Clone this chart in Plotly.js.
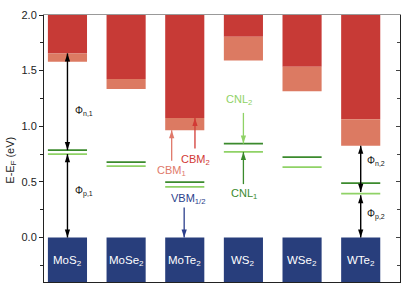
<!DOCTYPE html>
<html>
<head>
<meta charset="utf-8">
<script src="https://cdn.plot.ly/plotly-3.0.1.min.js"></script>
<style>html,body{margin:0;padding:0;background:#fff;}#chart{width:415px;height:304px;}</style>
</head>
<body>
<div id="chart"></div>
<script>
// ---- data ----
const materials = ['MoS<sub>2</sub>','MoSe<sub>2</sub>','MoTe<sub>2</sub>','WS<sub>2</sub>','WSe<sub>2</sub>','WTe<sub>2</sub>'];
const cbm1 = [1.58, 1.335, 0.965, 1.59, 1.315, 0.825];   // lower conduction edge (salmon)
const cbm2 = [1.655, 1.425, 1.075, 1.805, 1.535, 1.063]; // upper conduction edge (red)
const cnlUpper = [0.785, 0.678, 0.498, 0.844, 0.723, 0.489]; // dark green lines
const cnlLower = [0.750, 0.642, 0.455, 0.769, 0.633, 0.394]; // light green lines
const vbm = [0, 0, 0, 0, 0, 0];
const yTop = 2.0, yBottom = -0.4;

// phi double arrows
const phiCols = [0, 5];
const phiTop = [1.655, 0.825];
const phiMidUp = [0.785, 0.41];
const phiMidLo = [0.75, 0.38];
const phiLabels = ['Φ<sub>n,1</sub>', 'Φ<sub>p,1</sub>', 'Φ<sub>n,2</sub>', 'Φ<sub>p,2</sub>'];
const phiLabelX = [0.09, 0.09, 5.07, 5.07];
const phiLabelY = [1.14, 0.41, 0.69, 0.21];

// labelled arrows in MoTe2 / WS2 columns
const arrowNames = ['CBM<sub>1</sub>', 'CBM<sub>2</sub>', 'VBM<sub>1/2</sub>', 'CNL<sub>2</sub>', 'CNL<sub>1</sub>'];
const arrowX = [1.777, 2.174, 1.99, 3.0, 3.0];
const arrowFromY = [0.69, 0.80, 0.27, 1.12, 0.48];
const arrowToY = [0.965, 1.075, 0.0, 0.844, 0.769];
const labelX = [1.78, 2.19, 2.07, 2.92, 3.01];
const labelY = [0.60, 0.70, 0.35, 1.234, 0.387];

// ---- styles ----
const FONT = 'Liberation Sans, Arial, sans-serif';
const cDark = '#c73a36', cSalmon = '#dc7a62', cNavy = '#283e7c';
const gDark = '#3b8a2d', gLight = '#8fd266';
const arrowCols = ['#e0796a', '#d23a35', '#2c3f8c', '#8fd266', '#3b8a2d'];
const barW = 0.667;

const idx = materials.map((_, i) => i);
const traces = [];
traces.push({type:'bar', x: idx, base: cbm2, y: cbm2.map(v => yTop + 0.1 - v), width: barW,
  marker:{color:cDark, line:{width:0}}, hoverinfo:'skip'});
traces.push({type:'bar', x: idx, base: cbm1, y: cbm1.map((v,i) => cbm2[i] - v), width: barW,
  marker:{color:cSalmon, line:{width:0}}, hoverinfo:'skip'});
traces.push({type:'bar', x: idx, base: yBottom - 0.1, y: vbm.map(v => v - yBottom + 0.1), width: barW,
  marker:{color:cNavy, line:{width:0}}, hoverinfo:'skip'});

function levelLines(vals, color){
  const xs = [], ys = [];
  vals.forEach((v,i) => { xs.push(i - barW/2, i + barW/2, null); ys.push(v, v, null); });
  return {type:'scatter', mode:'lines', x: xs, y: ys, line:{color:color, width:1.8}, hoverinfo:'skip'};
}
traces.push(levelLines(cnlUpper, gDark));
traces.push(levelLines(cnlLower, gLight));

// arrow drawn as a line plus triangle heads (tip of 'arrow' symbol sits on the point)
function arrow(x, y0, y1, color, width, both){
  const dirEnd = y1 > y0 ? 0 : 180;
  traces.push({type:'scatter', mode:'lines', x:[x, x], y:[y0, y1], line:{color:color, width:width}, hoverinfo:'skip'});
  const mx = [x], my = [y1], ang = [dirEnd];
  if (both) { mx.push(x); my.push(y0); ang.push((dirEnd + 180) % 360); }
  traces.push({type:'scatter', mode:'markers', x:mx, y:my,
    marker:{symbol:'arrow', size:8.5, angle:ang, color:color, line:{width:0}}, hoverinfo:'skip'});
}
phiCols.forEach((c,k) => {
  arrow(c, phiMidUp[k], phiTop[k], '#000', 1.4, true);
  arrow(c, vbm[c], phiMidLo[k], '#000', 1.4, true);
});
arrowNames.forEach((t,k) => arrow(arrowX[k], arrowFromY[k], arrowToY[k], arrowCols[k], 1.3, false));

// invisible trace on secondary axes to keep mirror frame
traces.push({type:'scatter', x:[0], y:[0], xaxis:'x2', yaxis:'y2', mode:'markers', marker:{opacity:0}, hoverinfo:'skip'});

const ann = [];
materials.forEach((m,i) => ann.push({x:i, y:-0.215, xref:'x', yref:'y', text:m, showarrow:false,
  font:{family:FONT, size:11.5, color:'#ffffff'}}));
phiLabels.forEach((t,k) => ann.push({x:phiLabelX[k], y:phiLabelY[k], xref:'x', yref:'y', text:t, showarrow:false,
  xanchor:'left', font:{family:FONT, size:10, color:'#111'}}));
arrowNames.forEach((t,k) => ann.push({x:labelX[k], y:labelY[k], xref:'x', yref:'y', text:t, showarrow:false,
  font:{family:FONT, size:11, color:arrowCols[k]}}));
// y-axis title
ann.push({xref:'paper', yref:'paper', x:-0.095, y:0.455, text:'E-E<sub>F</sub> (eV)', textangle:-90,
  showarrow:false, xanchor:'center', yanchor:'middle', font:{family:FONT, size:11, color:'#222'}});

const layout = {
  width:415, height:304,
  margin:{l:44, r:15, t:15, b:22},
  paper_bgcolor:'#fff', plot_bgcolor:'#fff',
  barmode:'overlay', showlegend:false,
  font:{family:FONT, size:11, color:'#222'},
  xaxis:{range:[-0.4, 5.67], showgrid:false, zeroline:false, showticklabels:false, ticks:'',
    showline:true, linecolor:'#222', linewidth:1},
  xaxis2:{range:[-0.4, 5.67], overlaying:'x', side:'top', showgrid:false, zeroline:false, showticklabels:false,
    ticks:'', showline:true, linecolor:'#999', linewidth:1},
  yaxis:{range:[yBottom, yTop], tickvals:[0, 0.5, 1.0, 1.5, 2.0], ticktext:['0.0','0.5','1.0','1.5','2.0'],
    ticks:'outside', ticklen:4, tickwidth:1, tickcolor:'#222',
    minor:{dtick:0.25, tick0:0, ticks:'outside', ticklen:3, tickcolor:'#222'},
    showgrid:false, zeroline:false, showline:true, linecolor:'#222', linewidth:1,
    tickfont:{size:11, color:'#222'}},
  yaxis2:{range:[yBottom, yTop], overlaying:'y', side:'right', tickvals:[0, 0.5, 1.0, 1.5, 2.0], showticklabels:false,
    ticks:'inside', ticklen:4, tickcolor:'#444', minor:{dtick:0.25, tick0:0, ticks:'inside', ticklen:3, tickcolor:'#444'},
    showgrid:false, zeroline:false, showline:true, linecolor:'#222', linewidth:1},
  annotations: ann
};

Plotly.newPlot('chart', traces, layout, {staticPlot:true, displayModeBar:false});
</script>
</body>
</html>
